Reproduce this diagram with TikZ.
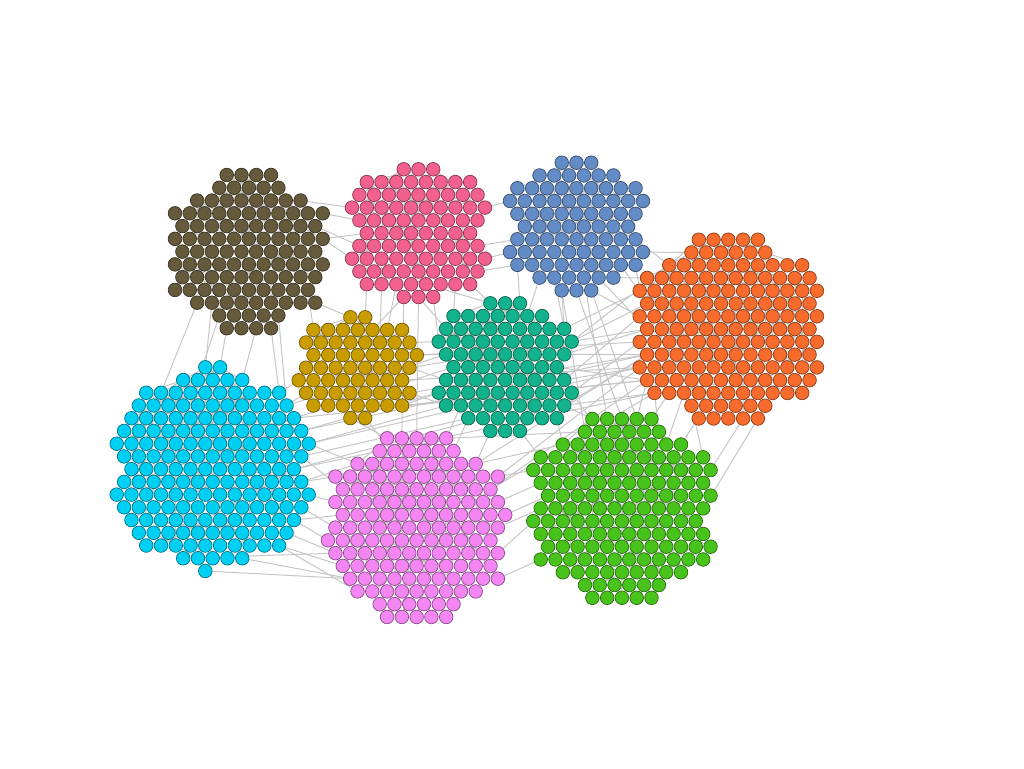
\documentclass[tikz,border=0pt]{standalone}
\usepackage{tikz}
\pgfdeclarelayer{bg}
\pgfsetlayers{bg,main}
\definecolor{colol}{HTML}{665A3C}
\definecolor{colpk}{HTML}{F2608E}
\definecolor{colbl}{HTML}{638BC6}
\definecolor{color}{HTML}{F76B2D}
\definecolor{colgd}{HTML}{C99C00}
\definecolor{coltl}{HTML}{12B28C}
\definecolor{colcy}{HTML}{00CFF4}
\definecolor{colvi}{HTML}{F386F2}
\definecolor{colgr}{HTML}{48C31C}
\definecolor{linkgray}{HTML}{C6C6C6}
\tikzset{
  dot/.style={circle, inner sep=0pt, minimum size=13.6pt, fill=#1, draw=#1!55!black, line width=0.7pt},
  link/.style={draw=linkgray, line width=1pt}
}
\newcount\gidx
\newcommand\mkcluster[6]{%
  \expandafter\xdef\csname st#1\endcsname{\the\numexpr\gidx+1\relax}%
  \foreach \hh/\nn [count=\rr from 0] in {#6} {
    \foreach \kk in {1,...,\nn} {
      \global\advance\gidx by 1
      \edef\ii{\the\gidx}
      \node[dot=#2, alias=#1-i\ii] (#1-\rr-\kk) at ({#3+\hh*7.385+(\kk-1)*14.77},{#4+\rr*#5}) {};
    }
  }%
  \expandafter\xdef\csname en#1\endcsname{\the\gidx}%
}
\newcommand\intra[1]{%
  \edef\cs{\csname st#1\endcsname}\edef\ce{\csname en#1\endcsname}%
  \pgfmathtruncatemacro\csn{\cs+1}%
  \foreach \ii in {\csn,...,\ce} {
    \pgfmathtruncatemacro\jj{\cs+floor(rnd*(\ii-\cs))}
    \draw[link] (#1-i\ii) -- (#1-i\jj);
  }%
}
\begin{document}
\begin{tikzpicture}[x=1pt,y=-1pt]
\pgfmathsetseed{42}
\useasboundingbox (0,0) rectangle (1024,768);
\mkcluster{ol}{colol}{175.0}{175.0}{12.77}{7/4,6/5,3/8,0/11,1/10,0/11,1/10,0/11,1/10,0/10,3/9,6/5,7/4}
\mkcluster{pk}{colpk}{352.0}{169.3}{12.77}{7/3,2/8,1/9,0/10,1/9,2/8,1/9,0/10,1/9,2/8,7/3}
\mkcluster{bl}{colbl}{510.0}{162.7}{12.77}{7/3,4/6,1/9,0/10,1/9,2/8,1/9,0/10,1/9,4/6,7/3}
\mkcluster{or}{color}{639.7}{239.7}{12.77}{8/5,7/6,4/10,1/12,0/13,1/12,0/13,1/12,0/13,1/12,0/13,1/12,2/11,7/6,8/5}
\mkcluster{gd}{colgd}{298.7}{317.3}{12.6}{7/2,2/7,1/8,2/8,1/8,0/8,1/8,2/7,7/2}
\mkcluster{tl}{coltl}{438.7}{303.3}{12.77}{7/3,2/7,1/9,0/10,1/9,2/8,1/9,0/10,1/9,4/7,7/3}
\mkcluster{cy}{colcy}{116.7}{367.3}{12.73}{12/2,9/5,4/10,3/11,2/12,1/13,0/14,1/13,2/12,1/13,0/14,1/13,2/12,3/11,4/10,9/5,12/1}
\mkcluster{vi}{colvi}{328.0}{438.3}{12.76}{8/5,7/6,4/9,1/12,2/11,1/12,2/12,1/12,0/12,1/12,2/11,3/11,4/9,7/6,8/5}
\mkcluster{gr}{colgr}{533.3}{419.0}{12.77}{8/5,7/6,4/9,1/12,0/13,1/12,2/12,1/12,0/12,1/12,2/12,1/12,4/9,7/6,8/5}
\begin{pgfonlayer}{bg}
\intra{ol}\intra{pk}\intra{bl}\intra{or}\intra{gd}\intra{tl}\intra{cy}\intra{vi}\intra{gr}
\foreach \a/\b in {%
  ol-10-1/cy-2-2, ol-11-1/cy-1-2, ol-12-1/cy-0-2, ol-12-3/cy-1-5, ol-12-4/cy-2-10,
  ol-11-5/cy-3-11, ol-10-2/cy-0-1, ol-9-10/gd-1-1, ol-10-9/gd-0-1,
  ol-3-11/pk-4-1, ol-5-11/pk-5-1, ol-5-11/pk-7-1, ol-4-10/pk-6-1, ol-2-8/pk-3-1,
  pk-7-10/bl-7-1, pk-6-9/bl-6-1, pk-3-10/bl-3-1, pk-8-9/bl-8-1,
  pk-10-1/vi-0-2, pk-10-2/vi-0-3, pk-9-2/gd-2-6, pk-9-7/tl-1-1, pk-10-3/tl-3-1,
  pk-9-8/tl-0-1, pk-9-3/gd-1-6,
  bl-9-1/tl-1-6, bl-10-1/tl-2-9, bl-8-1/tl-0-3,
  bl-8-9/or-4-1, bl-9-6/or-3-1, bl-10-3/or-6-1, bl-7-10/or-1-1, bl-6-9/or-2-1,
  bl-10-1/gr-1-1, bl-10-2/gr-0-3, bl-9-4/gr-0-2,
  tl-3-10/or-5-1, tl-4-9/or-7-1, tl-7-10/or-8-1, tl-6-9/or-10-1, tl-2-9/or-4-1,
  tl-8-9/or-9-1, tl-5-8/or-11-1,
  gd-3-8/or-8-1, gd-5-8/or-10-1, gd-4-8/tl-6-1, gd-2-8/tl-3-1,
  cy-5-13/tl-7-1, cy-6-14/tl-8-1, cy-4-12/or-11-1, cy-3-11/gd-6-1, cy-2-10/gd-5-1,
  cy-7-13/tl-9-1, cy-8-12/or-12-1,
  cy-9-13/vi-3-1, cy-10-14/vi-5-1, cy-11-13/vi-7-1, cy-12-12/vi-8-1, cy-13-11/vi-9-1,
  cy-14-10/vi-10-1, cy-15-5/vi-11-1, cy-15-1/vi-9-1, cy-6-14/vi-2-1, cy-7-13/vi-4-1,
  gd-8-1/vi-0-1, gd-8-2/vi-2-4, gd-7-7/tl-7-1,
  tl-9-1/vi-1-6, tl-10-1/vi-2-9, tl-8-2/vi-0-5,
  tl-9-7/gr-2-1, tl-10-3/gr-3-1, tl-8-9/gr-0-1,
  vi-3-12/gr-4-1, vi-6-12/gr-6-1, vi-9-12/gr-8-1, vi-11-11/gr-11-1, vi-7-12/gr-7-1, vi-5-12/gr-5-1,
  or-14-5/gr-8-12, or-14-4/gr-4-13, or-13-2/gr-2-9, or-12-1/gr-1-6, or-13-1/gr-3-12,
  or-12-2/gr-0-5, or-11-1/gr-0-4, or-12-3/gr-2-8,
  or-10-1/vi-3-12, or-9-1/vi-2-9, or-12-1/vi-4-11,
  cy-4-12/tl-5-1, cy-5-13/or-9-1, cy-6-14/or-10-1, cy-3-11/tl-4-1, cy-8-12/tl-9-2,
  gd-6-8/or-9-1, gd-4-8/or-7-1, gd-3-8/tl-4-1, gd-7-7/or-11-1, gd-6-8/tl-8-1,
  pk-10-2/tl-2-1, pk-9-5/tl-0-1, pk-9-1/gd-0-2, pk-10-1/gd-1-5,
  bl-9-2/tl-2-9, bl-10-3/gr-0-4, bl-9-5/or-7-1, bl-8-8/or-5-1,
  tl-3-10/or-2-1, tl-4-9/or-9-1, tl-6-9/or-6-1, tl-7-10/gr-1-2, tl-8-9/or-12-1,
  vi-2-9/gr-2-1, vi-0-5/gr-1-1, vi-4-11/or-11-1,
  cy-9-13/vi-2-1, cy-12-12/vi-6-1, cy-14-10/vi-12-1, cy-16-1/vi-11-1} { \draw[link] (\a) -- (\b); }
\end{pgfonlayer}
\end{tikzpicture}
\end{document}
